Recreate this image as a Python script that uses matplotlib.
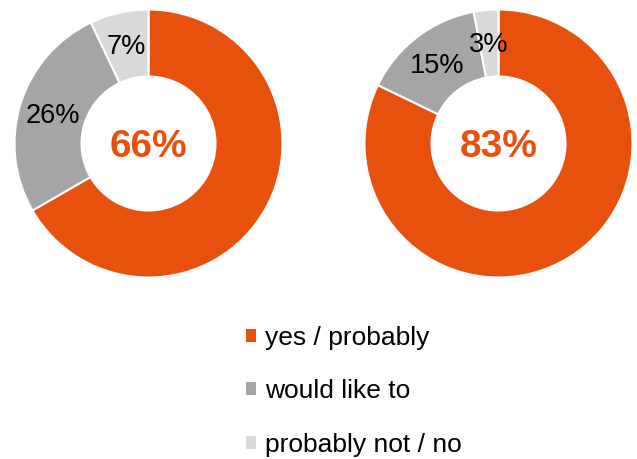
import matplotlib.pyplot as plt
from matplotlib.patches import Patch

plt.rcParams['font.family'] = ['Liberation Sans', 'DejaVu Sans']

# Survey answers, in percent
categories = ["yes / probably", "would like to", "probably not / no"]
left_values = [66, 26, 7]
right_values = [83, 15, 3]
colors = ["#E8500E", "#A5A5A5", "#D9D9D9"]

W, H = 637, 459
fig = plt.figure(figsize=(W / 100, H / 100), dpi=100)


def donut(cx, cy, r, values):
    ax = fig.add_axes([(cx - r) / W, (H - cy - r) / H, 2 * r / W, 2 * r / H])
    labels = [""] + [f"{v}%" for v in values[1:]]
    wedges, texts = ax.pie(values, colors=colors, startangle=90, counterclock=False,
                           labels=labels, labeldistance=0.75,
                           textprops=dict(fontsize=19.5, color="black",
                                          ha="center", va="center"),
                           wedgeprops=dict(width=0.5, edgecolor="white", linewidth=1.5))
    # nudge labels down a little so the digits sit centred
    for t in texts:
        x, y = t.get_position()
        t.set_position((x, y - 0.015))
    ax.text(0, -0.025, f"{values[0]}%", fontsize=28, fontweight="bold",
            color=colors[0], ha="center", va="center")
    ax.set_xlim(-1, 1)
    ax.set_ylim(-1, 1)
    ax.set_aspect("equal")
    ax.axis("off")


donut(148.5, 143.5, 134, left_values)
donut(498.5, 143.5, 134, right_values)

handles = [Patch(facecolor=c, edgecolor="none") for c in colors]
fig.legend(handles, categories, loc="upper left",
           bbox_to_anchor=(246 / W, 1 - 326 / H), frameon=False,
           fontsize=19, handlelength=0.38, handleheight=0.38,
           handletextpad=0.34, labelspacing=1.11, borderpad=0,
           borderaxespad=0)

fig.savefig("out.png", dpi=100)
